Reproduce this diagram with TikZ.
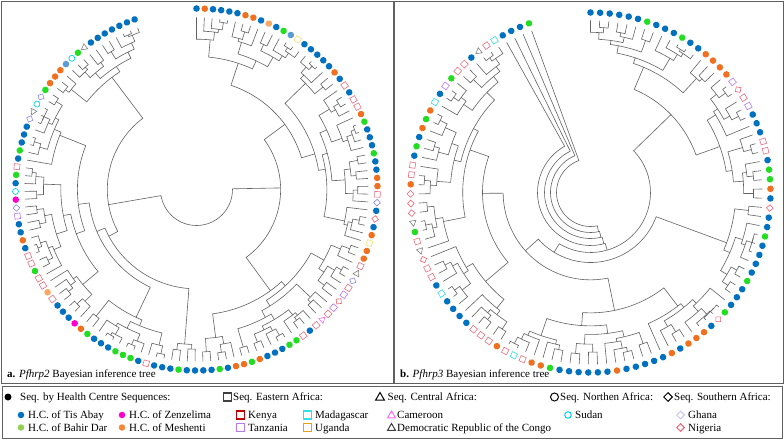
\documentclass[tikz,border=0pt]{standalone}
\usepackage{fontspec}
\setmainfont{Liberation Serif}
\usetikzlibrary{shapes.geometric}
\definecolor{treegray}{HTML}{626262}
\definecolor{boxgray}{HTML}{606060}
\definecolor{tisabay}{HTML}{0070C0}
\definecolor{bahirT}{HTML}{22DD22}
\definecolor{bahirL}{HTML}{92D050}
\definecolor{zenz}{HTML}{FF00CC}
\definecolor{mesh}{HTML}{F07020}
\definecolor{meshL}{HTML}{F7853A}
\definecolor{lorange}{HTML}{F8A860}
\definecolor{lblue}{HTML}{5B9BD5}
\definecolor{kenyaT}{HTML}{E87080}
\definecolor{kenyaL}{HTML}{C00000}
\definecolor{tanz}{HTML}{B878F0}
\definecolor{madagT}{HTML}{30DDE0}
\definecolor{madagL}{HTML}{33E0E8}
\definecolor{ugandaT}{HTML}{F0E070}
\definecolor{ugandaL}{HTML}{E8A010}
\definecolor{camer}{HTML}{FF70FF}
\definecolor{drcT}{HTML}{808080}
\definecolor{drcL}{HTML}{404040}
\definecolor{sudan}{HTML}{00D0F0}
\definecolor{ghanaT}{HTML}{8888F0}
\definecolor{ghanaL}{HTML}{C8C8F0}
\definecolor{nigeria}{HTML}{F06070}
\tikzset{
  br/.style={draw=treegray, line width=0.6pt},
  frame/.style={draw=boxgray, line width=0.9pt},
  dot/.style={circle, inner sep=0pt, minimum size=6.6pt},
  sq/.style={rectangle, draw, fill=white, line width=0.6pt, inner sep=0pt, minimum size=5.6pt},
  tri/.style={regular polygon, regular polygon sides=3, draw, fill=white, line width=0.6pt, inner sep=0pt, minimum size=7.5pt},
  dia/.style={diamond, draw, fill=white, line width=0.6pt, inner sep=0pt, minimum size=7pt},
  ring/.style={circle, draw, fill=white, line width=0.7pt, inner sep=0pt, minimum size=6pt},
  tB/.style={dot, fill=tisabay},
  tb/.style={dot, fill=lblue},
  tG/.style={dot, fill=bahirT},
  tM/.style={dot, fill=zenz},
  tO/.style={dot, fill=mesh},
  to/.style={dot, fill=lorange},
  tK/.style={sq, draw=kenyaT},
  tT/.style={sq, draw=tanz},
  tD/.style={sq, draw=madagT},
  tU/.style={sq, draw=ugandaT},
  tC/.style={tri, draw=camer},
  tR/.style={tri, draw=drcT},
  tS/.style={ring, draw=sudan},
  tV/.style={dia, draw=ghanaT},
  tH/.style={dia, draw=ghanaL},
  tN/.style={dia, draw=nigeria},
  legtext/.style={anchor=base west, inner sep=0pt},
  legsym/.style={line width=1pt},
  legsq/.style={line width=1.3pt},
}
% ---- circular tree generator ----
\def\zzRL{172}
\def\zzclade#1#2#3{\ifnum#1<#2\relax\zzcladestep{#1}{#2}{#3}\fi}
\def\zzcladestep#1#2#3{%
  \pgfmathtruncatemacro\zzn{#2-#1+1}%
  \ifnum\zzn>5\relax
    \pgfmathtruncatemacro\zzm{min(#2-1,#1+floor((\zzn-1)*(rnd+rnd)/2))}%
  \else
    \pgfmathtruncatemacro\zzm{min(#2-1,#1+floor((\zzn-1)*rnd))}%
  \fi
  \edef\zzgo{\noexpand\zzdraw{#1}{\zzm}{#2}{#3}}%
  \zzgo}
\def\zzchild#1#2#3{%
  \ifnum#1=1\relax \edef#3{\zzRL}%
  \else
    \pgfmathsetmacro#3{min(\zzRL-3, max(#2+3+5*rnd, \zzRL - 9*(ln(#1)/ln(2))^0.85 - 0.197*(#1)^1.3 + 4*rand))}%
  \fi}
\def\zzdraw#1#2#3#4{%
  \pgfmathtruncatemacro\zzmp{#2+1}%
  \pgfmathtruncatemacro\zznl{#2-#1+1}%
  \pgfmathtruncatemacro\zznr{#3-#2}%
  \zzchild{\zznl}{#4}\zzrl
  \zzchild{\zznr}{#4}\zzrr
  \pgfmathsetmacro\zzal{90-((#1+#2)/2-1)*\zzstep}%
  \pgfmathsetmacro\zzar{90-((\zzmp+#3)/2-1)*\zzstep}%
  \draw[br] (\zzal:\zzrl pt) -- (\zzal:#4pt) arc[start angle=\zzal, end angle=\zzar, radius=#4pt] -- (\zzar:\zzrr pt);
  \edef\zznext{\noexpand\zzclade{#1}{#2}{\zzrl}\noexpand\zzclade{\zzmp}{#3}{\zzrr}}%
  \zznext}
% fixed node: a m b r rl rr (no recursion)
\def\zzfix#1#2#3#4#5#6{%
  \pgfmathtruncatemacro\zzmp{#2+1}%
  \pgfmathsetmacro\zzal{90-((#1+#2)/2-1)*\zzstep}%
  \pgfmathsetmacro\zzar{90-((\zzmp+#3)/2-1)*\zzstep}%
  \draw[br] (\zzal:#5pt) -- (\zzal:#4pt) arc[start angle=\zzal, end angle=\zzar, radius=#4pt] -- (\zzar:#6pt);}
\begin{document}
\begin{tikzpicture}[x=1pt, y=1pt, font=\fontsize{11}{13}\selectfont]
\useasboundingbox (0,0) rectangle (784,440);
\fill[white] (0,0) rectangle (784,440);
\pgfmathsetseed{4242}
% panel frames
\draw[frame] (1,57) rectangle (393.5,439);
\draw[frame] (394.5,57) rectangle (783,439);
\draw[frame] (2,2) rectangle (782,54);
% ---------- panel a ----------
\begin{scope}[shift={(196.5,250.5)}]
  \def\zzstep{2.615385}
  \zzdraw{1}{69}{131}{36}
  \foreach \tcode [count=\i] in {B,O,B,B,B,B,O,O,B,o,B,G,b,U,B,B,B,B,B,O,B,K,B,K,K,O,G,B,B,B,G,B,B,O,O,K,
     V,B,N,B,O,U,O,O,K,R,V,K,T,N,T,K,C,K,B,K,G,G,B,B,B,O,G,O,O,B,G,B,B,B,
     B,G,B,B,B,K,B,G,G,G,B,B,B,G,O,M,B,B,B,K,o,K,K,G,K,K,B,O,B,B,T,V,M,
     S,B,G,K,B,G,B,B,B,V,R,S,V,G,O,O,O,b,S,G,R,B,B,B,B,B,B,B} {
    \pgfmathsetmacro\ta{90-(\i-1)*2.615385}
    \edef\tmp{\noexpand\node[t\tcode, rotate=\ta] (ta\i) at (\ta:181pt) {};}
    \tmp
  }
\end{scope}
% ---------- panel b ----------
\begin{scope}[shift={(590.5,247.5)}]
  \def\zzstep{3.063063}
  \zzfix{1}{111}{112}{34}{40}{172}
  \zzfix{1}{110}{111}{40}{46}{172}
  \zzfix{1}{109}{110}{46}{53}{172}
  \zzfix{1}{108}{109}{53}{60}{172}
  \zzfix{1}{31}{108}{60}{112}{70}
  \zzclade{1}{31}{112}
  \zzclade{32}{108}{70}
  \foreach \tcode [count=\i] in {B,B,B,B,B,B,G,B,B,B,G,B,B,O,O,O,O,T,N,K,T,B,B,B,K,K,B,G,G,O,B,
     N,B,B,G,B,B,B,B,G,B,B,B,G,N,B,O,O,O,B,O,B,B,B,B,B,O,B,B,
     B,B,B,B,G,O,O,K,D,K,O,K,K,K,B,B,B,B,D,B,K,K,N,R,K,G,R,N,N,
     N,O,K,K,B,G,B,O,G,O,D,B,T,G,K,K,B,R,K,D,B,B,B,G} {
    \pgfmathsetmacro\ta{90-(\i-1)*3.063063}
    \edef\tmp{\noexpand\node[t\tcode, rotate=\ta] (tb\i) at (\ta:180pt) {};}
    \tmp
  }
\end{scope}
% panel labels
\node[legtext] (laba) at (7,62.5) {\textbf{a.} \textit{Pfhrp2} Bayesian inference tree};
\node[legtext] (labb) at (400,62.5) {\textbf{b.} \textit{Pfhrp3} Bayesian inference tree};
% ---------- legend ----------
% row 1
\node[dot, fill=black, minimum size=7pt] (s1) at (8,43) {};
\node[legtext] (h1) at (20,39.5) {Seq. by Health Centre Sequences:};
\draw[legsq, draw=drcL] (223.5,39) rectangle (231.5,47);
\node[legtext] (h2) at (233,39.5) {Seq. Eastern Africa:};
\node[tri, legsym, draw=black, minimum size=10pt] (s3) at (380,42.5) {};
\node[legtext] (h3) at (387.5,39.5) {Seq. Central Africa:};
\node[ring, legsym, draw=black, minimum size=8pt] (s4) at (554.5,43) {};
\node[legtext] (h4) at (560,39.5) {Seq. Northen Africa:};
\node[dia, legsym, draw=black, minimum size=9pt] (s5) at (668,43) {};
\node[legtext] (h5) at (674,39.5) {Seq. Southern Africa:};
% row 2
\node[dot, fill=tisabay, minimum size=6.5pt] (d1) at (21,25) {};
\node[legtext] (e1) at (28,21.5) {H.C. of Tis Abay};
\node[dot, fill=zenz, minimum size=6.5pt] (d2) at (122,25) {};
\node[legtext] (e2) at (129,21.5) {H.C. of Zenzelima};
\draw[legsq, draw=kenyaL] (236.5,21) rectangle (244.5,29);
\node[legtext] (e3) at (248,21.5) {Kenya};
\draw[legsq, draw=madagL] (303.5,21) rectangle (311.5,29);
\node[legtext] (e4) at (315,21.5) {Madagascar};
\node[tri, legsym, draw=camer, minimum size=9pt] (d5) at (391.5,24.5) {};
\node[legtext] (e5) at (397,21.5) {Cameroon};
\node[ring, legsym, draw=sudan, minimum size=6.5pt] (d6) at (568,25) {};
\node[legtext] (e6) at (575,21.5) {Sudan};
\node[dia, legsym, draw=ghanaL, minimum size=8pt] (d7) at (680.5,25) {};
\node[legtext] (e7) at (688,21.5) {Ghana};
% row 3
\node[dot, fill=bahirL, minimum size=6.5pt] (f1) at (21,12.5) {};
\node[legtext] (g1) at (28,9) {H.C. of Bahir Dar};
\node[dot, fill=meshL, minimum size=6.5pt] (f2) at (122,12.5) {};
\node[legtext] (g2) at (129,9) {H.C. of Meshenti};
\draw[legsq, draw=tanz] (236.5,8.5) rectangle (244.5,16.5);
\node[legtext] (g3) at (248,9) {Tanzania};
\draw[legsq, draw=ugandaL] (303.5,8.5) rectangle (311.5,16.5);
\node[legtext] (g4) at (315,9) {Uganda};
\node[tri, legsym, draw=drcL, minimum size=9pt] (f5) at (391.5,12) {};
\node[legtext] (g5) at (397,9) {Democratic Republic of the Congo};
\node[dia, legsym, draw=nigeria, minimum size=8pt] (f6) at (680.5,12.5) {};
\node[legtext] (g6) at (688,9) {Nigeria};
\end{tikzpicture}
\end{document}
